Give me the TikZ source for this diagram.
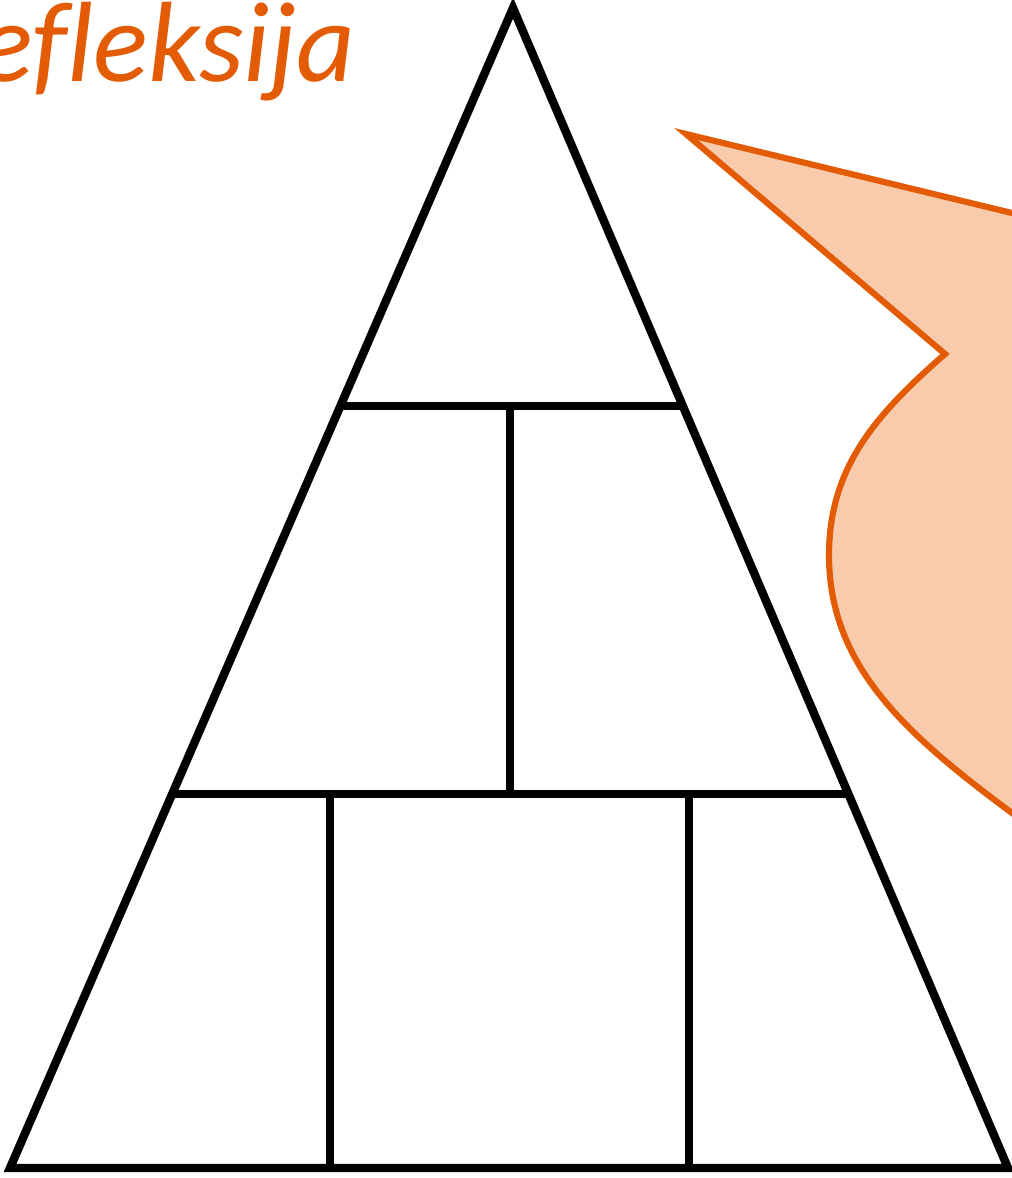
\documentclass[tikz,border=0pt]{standalone}
\usepackage{fontspec}
\setmainfont[Ligatures=NoCommon]{Carlito}
\usepackage{xcolor}
\usepackage{tikz}
\usetikzlibrary{calc}
\definecolor{rfOrange}{HTML}{E35B05}
\definecolor{rfPeach}{HTML}{F8CBAD}
\tikzset{
  pyramid line/.style={line width=4.8pt,draw=black,line join=miter},
  bubble/.style={line width=3.5pt,draw=rfOrange,fill=rfPeach,line join=miter},
  title text/.style={font=\itshape\fontsize{65}{74}\selectfont,text=rfOrange,inner sep=0pt}
}

\begin{document}
\begin{tikzpicture}[x=0.02cm,y=-0.02cm]
\useasboundingbox (0,0) rectangle (1012,1178);
\coordinate (top) at (513,8);
\coordinate (bl) at (10,1168);
\coordinate (br) at (1008,1168);
% tiers
\coordinate (a1) at ($(top)!0.3431!(bl)$);
\coordinate (a2) at ($(top)!0.3431!(br)$);
\coordinate (b1) at ($(top)!0.6776!(bl)$);
\coordinate (b2) at ($(top)!0.6776!(br)$);
\draw[pyramid line] (top) -- (br) -- (bl) -- cycle;
\draw[pyramid line] (a1) -- (a2);
\draw[pyramid line] (b1) -- (b2);
\draw[pyramid line] (a1 -| 510,0) -- (b1 -| 510,0);
\draw[pyramid line] (b1 -| 330,0) -- (bl -| 330,0);
\draw[pyramid line] (b1 -| 689,0) -- (bl -| 689,0);
% speech bubble
\draw[bubble] (686,134) -- (1045,221) -- (1045,837) -- (1012,813)
  .. controls (904,733) and (829,665) .. (829,555)
  .. controls (829,465) and (879,412) .. (945,354) -- cycle;
\node[title text,anchor=base east] (title) at (356,81) {efleksija};
\end{tikzpicture}
\end{document}
